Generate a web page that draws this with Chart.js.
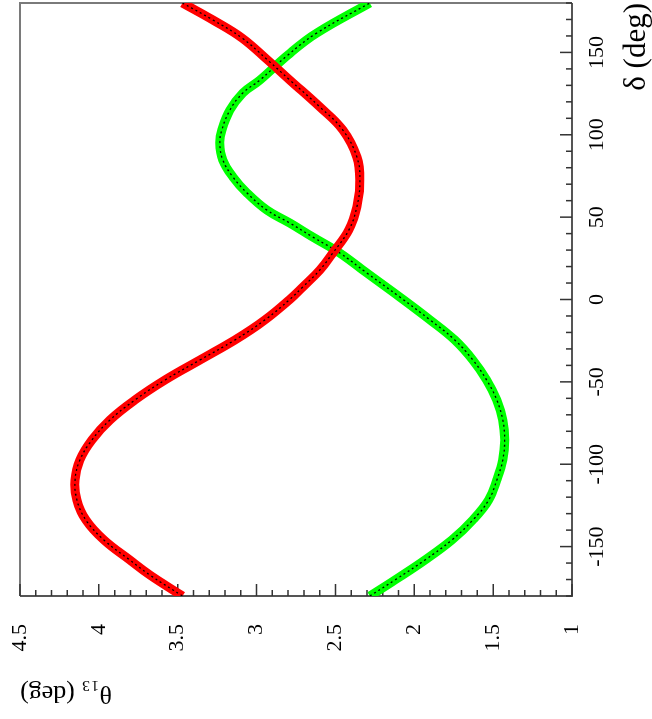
<!DOCTYPE html>
<html lang="en">
<head>
<meta charset="UTF-8">
<title>theta13 vs delta</title>
<script src="https://cdn.jsdelivr.net/npm/chart.js"></script>
<style>
  body { margin: 0; background: #fff; }
  #page { position: relative; width: 652px; height: 719px; overflow: hidden; }
  /* the plot is drawn in its normal orientation, then turned a quarter left */
  #turn { position: absolute; left: 0; top: 719px; width: 719px; height: 652px;
          transform: rotate(-90deg); transform-origin: 0 0; }
</style>
</head>
<body>
<div id="page"><div id="turn"><canvas id="myChart" width="719" height="652"></canvas></div></div>
<script>
// red curve: theta13 (deg) against delta (deg)
const redDelta = [-180, -167.3, -158.2, -146, -133.9, -121.7, -109.6, -97.4, -85.3, -73.2, -61, -48.9, -36.7, -24.6, -12.4,
                  0, 7.6, 17.9, 28.2, 42.2, 56.2, 72.5, 86.5, 102.9, 116.9, 133.2, 145.4, 158.8, 169.7, 180];
const redTheta = [3.47, 3.676, 3.803, 3.968, 4.082, 4.139, 4.151, 4.12, 4.044, 3.93, 3.771, 3.581, 3.359, 3.138, 2.947,
                  2.79, 2.707, 2.599, 2.517, 2.415, 2.364, 2.345, 2.364, 2.453, 2.599, 2.789, 2.93, 3.093, 3.277, 3.47];

// green curve
const greenDelta = [-180, -170.3, -158.2, -146, -133.9, -121.7, -109.6, -97.4, -85.3, -73.2, -61, -48.9, -36.7, -24.6, -12.4,
                    1.5, 16.1, 28.2, 37.9, 46.4, 54.3, 64.7, 74.4, 84.7, 95, 102.9, 115, 125.4, 133.2, 148.4, 161.8, 180];
const greenTheta = [2.282, 2.123, 1.933, 1.762, 1.629, 1.528, 1.477, 1.439, 1.427, 1.439, 1.477, 1.541, 1.629, 1.743, 1.90,
                    2.092, 2.301, 2.472, 2.643, 2.789, 2.935, 3.061, 3.15, 3.214, 3.233, 3.22, 3.169, 3.087, 2.979, 2.802, 2.618, 2.282];

// axes
const deltaTicks = [-150, -100, -50, 0, 50, 100, 150];
const thetaTicks = [1, 1.5, 2, 2.5, 3, 3.5, 4, 4.5];
const deltaMinorStep = 10;
const thetaMinorStep = 0.1;

const serif = '"Liberation Serif", "DejaVu Serif", serif';

function pts(xs, ys) {
    return xs.map((v, i) => ({ x: v, y: ys[i] }));
}

// ROOT-like frame with inward ticks
const rootFrame = {
    id: 'rootFrame',
    beforeDatasetsDraw(chart) {
        const { ctx, chartArea: a, scales: { x, y } } = chart;
        ctx.save();
        ctx.lineWidth = 2;
        ctx.strokeStyle = '#7a7a7a';
        ctx.beginPath();
        ctx.moveTo(a.left, a.top);
        ctx.lineTo(a.right, a.top);
        ctx.lineTo(a.right, a.bottom);
        ctx.stroke();
        ctx.strokeStyle = '#555';
        ctx.beginPath();
        ctx.moveTo(a.left, a.top);
        ctx.lineTo(a.left, a.bottom);
        ctx.lineTo(a.right, a.bottom);
        ctx.stroke();

        ctx.lineWidth = 1.5;
        ctx.strokeStyle = '#333';
        ctx.beginPath();
        const nd = Math.round(360 / deltaMinorStep);
        for (let i = 0; i <= nd; i++) {
            const d = -180 + i * deltaMinorStep;
            const px = x.getPixelForValue(d);
            const len = deltaTicks.includes(d) ? 12 : 6;
            ctx.moveTo(px, a.bottom);
            ctx.lineTo(px, a.bottom - len);
        }
        const nt = Math.round((4.5 - 1) / thetaMinorStep);
        for (let i = 0; i <= nt; i++) {
            const t = Math.round((1 + i * thetaMinorStep) * 10) / 10;
            const py = y.getPixelForValue(t);
            const len = thetaTicks.includes(t) ? 12 : 6;
            ctx.moveTo(a.left, py);
            ctx.lineTo(a.left + len, py);
        }
        ctx.stroke();
        ctx.restore();
    }
};

const ctx = document.getElementById('myChart').getContext('2d');
const myChart = new Chart(ctx, {
    type: 'scatter',
    data: {
        datasets: [
            {
                data: pts(redDelta, redTheta),
                showLine: true,
                borderColor: '#000',
                borderWidth: 1.3,
                borderDash: [2, 3],
                pointRadius: 0,
                tension: 0.4,
                clip: 0
            },
            {
                data: pts(redDelta, redTheta),
                showLine: true,
                borderColor: '#ff0000',
                borderWidth: 9,
                pointRadius: 0,
                tension: 0.4,
                clip: 0
            },
            {
                data: pts(greenDelta, greenTheta),
                showLine: true,
                borderColor: '#000',
                borderWidth: 1.3,
                borderDash: [2, 3],
                pointRadius: 0,
                tension: 0.4,
                clip: 0
            },
            {
                data: pts(greenDelta, greenTheta),
                showLine: true,
                borderColor: '#00ff00',
                borderWidth: 9,
                pointRadius: 0,
                tension: 0.4,
                clip: 0
            }
        ]
    },
    options: {
        responsive: false,
        animation: false,
        devicePixelRatio: 1,
        layout: { padding: { top: 20, right: 3, left: 0, bottom: 0 } },
        plugins: {
            legend: { display: false },
            tooltip: { enabled: false }
        },
        scales: {
            x: {
                type: 'linear',
                position: 'bottom',
                min: -180,
                max: 180,
                afterFit: s => { s.height = 80; },
                afterBuildTicks: s => { s.ticks = deltaTicks.map(v => ({ value: v })); },
                grid: { display: false, drawTicks: false },
                border: { display: false },
                ticks: {
                    color: '#000',
                    font: { family: serif, size: 22 },
                    padding: 12,
                    maxRotation: 0,
                    autoSkip: false,
                    callback: v => String(v)
                },
                title: {
                    display: true,
                    text: 'δ (deg)',
                    align: 'end',
                    color: '#000',
                    font: { family: serif, size: 31, lineHeight: 1 },
                    padding: 0
                }
            },
            y: {
                type: 'linear',
                min: 1,
                max: 4.5,
                afterFit: s => { s.width = 123; },
                afterBuildTicks: s => { s.ticks = thetaTicks.map(v => ({ value: v })); },
                // tick marks are drawn by the plugin; the hidden tick length only sets the label gap
                grid: { display: false, drawTicks: true, tickLength: 28 },
                border: { display: false },
                ticks: {
                    color: '#000',
                    font: { family: serif, size: 22 },
                    padding: 0,
                    autoSkip: false,
                    callback: v => String(v)
                },
                title: {
                    display: true,
                    text: 'θ₁₃ (deg)',
                    align: 'end',
                    color: '#000',
                    font: { family: serif, size: 26, lineHeight: 1 },
                    padding: { top: 13, bottom: 0 }
                }
            }
        }
    },
    plugins: [rootFrame]
});
</script>
</body>
</html>
